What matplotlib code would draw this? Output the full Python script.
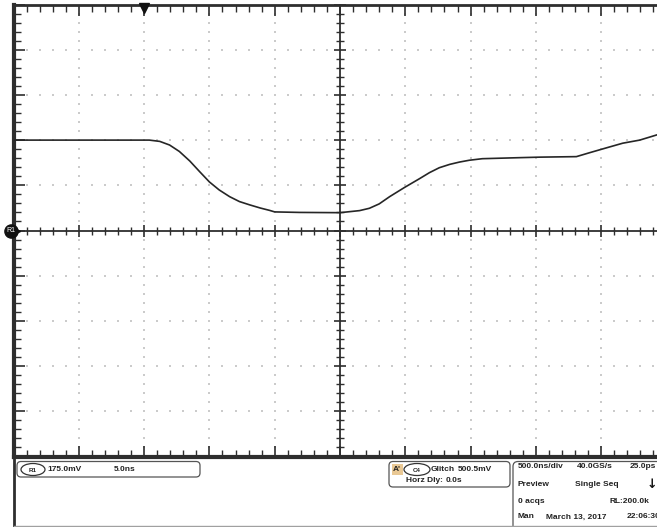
import matplotlib
matplotlib.use('Agg')
import matplotlib.pyplot as plt
import numpy as np
from matplotlib.patches import FancyBboxPatch, Ellipse, Rectangle
from matplotlib.lines import Line2D
from matplotlib.ticker import MultipleLocator
from matplotlib.transforms import Affine2D

# captured waveform (R1), time in ns from screen centre, level in mV
time_ns = [-2500, -1610, -1460, -1380, -1305, -1230, -1150, -1075, -1000, -925,
           -845, -770, -690, -610, -540, -500, -310, 0, 75, 150, 225,
           300, 380, 495, 610, 685, 760, 840, 915, 990, 1090, 1375,
           1530, 1810, 1910, 2040, 2165, 2295, 2425, 2500]
volt_mv = [350, 350, 350, 345, 331, 306, 269, 228, 188, 157,
           131, 112, 99, 87, 78, 72, 70, 69, 73, 77, 86,
           103, 131, 167, 201, 224, 243, 256, 265, 272, 278, 282,
           284, 286, 301, 320, 338, 350, 370, 377]

ns_per_div = 500.0
mv_per_div = 175.0
trigger_ns = -1500

# readout texts
ref_readout = ['R1', '175.0mV', '5.0ns']
trig_readout = ["A'", 'C4', 'Glitch', '500.5mV', 'Horz Dly:', '0.0s']
acq_rows = [['500.0ns/div', '40.0GS/s', '25.0ps'],
            ['Preview', 'Single Seq'],
            ['0 acqs', 'RL:200.0k'],
            ['Man', 'March 13, 2017', '22:06:30']]

W, H = 657, 527
plt.rcParams['font.family'] = ['Liberation Sans', 'DejaVu Sans']

fig = plt.figure(figsize=(W / 100, H / 100), dpi=100)
fig.patch.set_facecolor('white')
# pixel coordinates, origin top-left
pxT = Affine2D().scale(1 / 100, -1 / 100).translate(0, H / 100) + fig.dpi_scale_trans

left, top, bottom, width = 13.5, 4.5, 456.5, 653
pos = [left / W, 1 - bottom / H, width / W, (bottom - top) / H]
xmax = 5 * ns_per_div
ymax = 5 * mv_per_div
ns_px = ns_per_div / (width / 10)
mv_px = mv_per_div / ((bottom - top) / 10)

dark = '#2e2e2e'

ax = fig.add_axes(pos)
ax.set_xlim(-xmax, xmax)
ax.set_ylim(-ymax, ymax)
ax.spines['right'].set_visible(False)
ax.spines['left'].set_linewidth(3)
ax.spines['bottom'].set_linewidth(3)
ax.spines['top'].set_linewidth(2)
for s in ['left', 'bottom', 'top']:
    ax.spines[s].set_color(dark)
ax.xaxis.set_major_locator(MultipleLocator(ns_per_div))
ax.xaxis.set_minor_locator(MultipleLocator(ns_per_div / 5))
ax.yaxis.set_major_locator(MultipleLocator(mv_per_div))
ax.yaxis.set_minor_locator(MultipleLocator(mv_per_div / 5))
ax.tick_params(axis='x', which='both', direction='in', top=True, bottom=True,
               labelbottom=False, color=dark)
ax.tick_params(axis='y', which='both', direction='in', left=True, right=False,
               labelleft=False, color=dark)
ax.tick_params(which='major', length=8, width=1.2)
ax.tick_params(which='minor', length=5, width=1)

# dotted graticule
gx = np.arange(-xmax + ns_per_div, xmax, ns_per_div)
gy = np.arange(-ymax + mv_per_div, ymax, mv_per_div)
fx = np.arange(-xmax, xmax + 1, ns_per_div / 5)
fy = np.arange(-ymax, ymax + 1, mv_per_div / 5)
dx, dy = [], []
for x in gx:
    dx += [x] * len(fy)
    dy += list(fy)
for y in gy:
    dx += list(fx)
    dy += [y] * len(fx)
ax.scatter(dx, dy, s=1.4, color='#cbcbcb', marker='s', linewidths=0, zorder=1)

# centre cross with ticks
ax2 = fig.add_axes(pos, facecolor='none')
ax2.set_xlim(-xmax, xmax)
ax2.set_ylim(-ymax, ymax)
ax2.spines['left'].set_position(('data', 0))
ax2.spines['bottom'].set_position(('data', 0))
ax2.spines['right'].set_visible(False)
ax2.spines['top'].set_visible(False)
for s in ['left', 'bottom']:
    ax2.spines[s].set_color(dark)
    ax2.spines[s].set_linewidth(1.3)
ax2.xaxis.set_major_locator(MultipleLocator(ns_per_div))
ax2.xaxis.set_minor_locator(MultipleLocator(ns_per_div / 5))
ax2.yaxis.set_major_locator(MultipleLocator(mv_per_div))
ax2.yaxis.set_minor_locator(MultipleLocator(mv_per_div / 5))
ax2.tick_params(which='both', direction='inout', labelbottom=False,
                labelleft=False, color=dark)
ax2.tick_params(which='major', length=9, width=1.2)
ax2.tick_params(which='minor', length=6, width=1)

# waveform
ax2.plot(time_ns, volt_mv, color='#262626', lw=1.2, zorder=4)

# trigger position marker
ax2.plot([trigger_ns], [ymax - 3 * mv_px], marker='v', ms=7, color='#111111',
         clip_on=False, zorder=5)
# reference marker R1 at ground level
ax2.plot([-xmax + 3 * ns_px], [0], marker='>', ms=5, color='#111111',
         clip_on=False, zorder=5)
ax2.plot([-xmax - 3 * ns_px], [0], marker='o', ms=9.5, color='#111111',
         clip_on=False, zorder=6)
ax2.text(-xmax - 3 * ns_px, 0, 'R1', color='white', fontsize=5, ha='center',
         va='center', zorder=7, clip_on=False)

# lower readout panel
fig.add_artist(Line2D([13.5, 13.5], [456, 527], transform=pxT, color=dark, lw=2))
fig.add_artist(Line2D([13.5, 657], [526, 526], transform=pxT, color='#a0a0a0', lw=1))

tk = dict(transform=pxT, fontsize=6, fontweight='bold', color='#222222', va='center')

fig.add_artist(FancyBboxPatch((17, 461.5), 183, 15.5, transform=pxT,
                              boxstyle='round,pad=0,rounding_size=4',
                              fc='white', ec='#555555', lw=0.9))
fig.add_artist(Ellipse((33, 469.5), 24, 12, transform=pxT, fc='white',
                       ec='#333333', lw=0.9))
fig.text(33, 470, ref_readout[0], ha='center', **{**tk, 'fontsize': 4.5})
fig.text(47, 469.5, ref_readout[1], **tk)
fig.text(114, 469.5, ref_readout[2], **tk)

fig.add_artist(FancyBboxPatch((389, 461.5), 121, 25.5, transform=pxT,
                              boxstyle='round,pad=0,rounding_size=4',
                              fc='white', ec='#555555', lw=0.9))
fig.add_artist(Rectangle((392, 463.5), 11, 11.5, transform=pxT, fc='#e9c894',
                         ec='none'))
fig.text(393, 469.5, trig_readout[0], **tk)
fig.add_artist(Ellipse((417, 469.5), 26, 12, transform=pxT, fc='white',
                       ec='#333333', lw=0.9))
fig.text(417, 470, trig_readout[1], ha='center', **{**tk, 'fontsize': 4.5})
fig.text(431, 469.5, trig_readout[2], **tk)
fig.text(458, 469.5, trig_readout[3], **tk)
fig.text(406, 481, trig_readout[4], **tk)
fig.text(446, 481, trig_readout[5], **tk)

fig.add_artist(FancyBboxPatch((513, 461.5), 200, 100, transform=pxT,
                              boxstyle='round,pad=0,rounding_size=5',
                              fc='white', ec='#555555', lw=0.9))
row_y = [466, 485, 501.5, 517]
col_x = [[518, 577, 630], [518, 575], [518, 610], [518, 546, 627]]
for r, row in enumerate(acq_rows):
    for c, txt in enumerate(row):
        fig.text(col_x[r][c], row_y[r], txt, **tk)
fig.text(652, 485, '\u2193', transform=pxT, fontsize=9, fontweight='bold',
         color='#111111', ha='center', va='center', family='DejaVu Sans')

fig.savefig('out.png', dpi=100)
